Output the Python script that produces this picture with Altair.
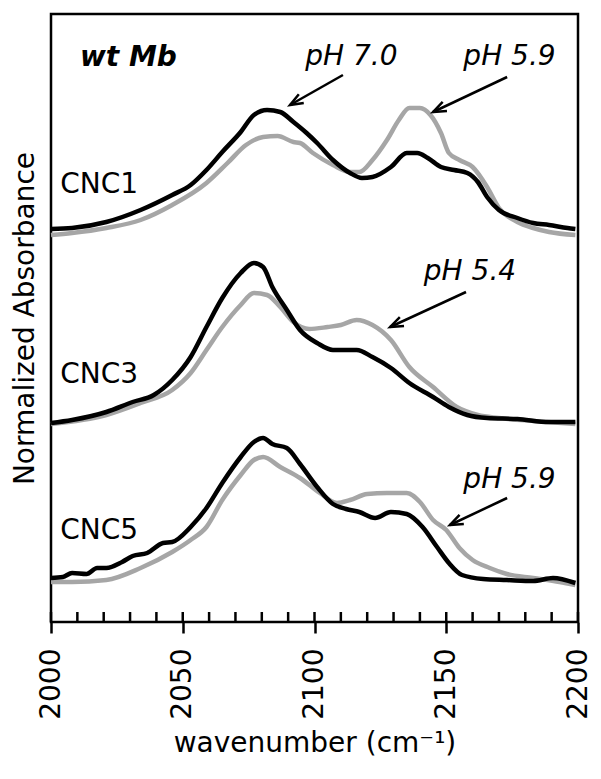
import math
import altair as alt
import pandas as pd

FONT = "DejaVu Sans"

# ---- spectra (wavenumber, normalized absorbance with vertical offsets) ----
WN_CNC1_70 = [2000, 2008, 2021, 2034, 2046, 2053, 2059, 2065, 2072, 2077, 2082, 2087, 2092, 2097, 2101, 2107, 2113.5, 2118, 2122, 2129, 2135, 2139, 2143, 2148, 2153, 2158, 2162, 2165.5, 2170, 2177, 2183, 2189, 2196, 2199]
AB_CNC1_70 = [1.965, 1.97, 2.00, 2.06, 2.135, 2.185, 2.26, 2.35, 2.45, 2.535, 2.56, 2.55, 2.50, 2.445, 2.395, 2.31, 2.245, 2.22, 2.225, 2.275, 2.345, 2.345, 2.32, 2.275, 2.26, 2.245, 2.20, 2.125, 2.06, 2.02, 1.995, 1.985, 1.97, 1.965]

WN_CNC1_59 = [2000, 2008, 2021, 2034, 2046, 2059, 2067, 2074, 2080.5, 2086, 2092, 2094.5, 2099.4, 2107, 2113.5, 2117, 2122, 2127.5, 2132, 2136, 2140, 2144, 2148, 2151, 2155, 2160, 2165.5, 2170, 2177, 2183, 2189, 2199]
AB_CNC1_59 = [1.935, 1.945, 1.97, 2.01, 2.085, 2.195, 2.295, 2.385, 2.425, 2.43, 2.40, 2.395, 2.345, 2.285, 2.25, 2.25, 2.31, 2.41, 2.51, 2.57, 2.57, 2.535, 2.445, 2.345, 2.31, 2.275, 2.175, 2.07, 2.00, 1.97, 1.95, 1.935]

WN_CNC3_70 = [2000, 2008, 2021, 2031, 2039, 2046, 2053, 2059, 2065, 2072, 2077, 2080.5, 2084, 2089.5, 2094.5, 2101, 2107, 2116, 2122, 2129, 2136, 2145, 2151, 2158, 2165.5, 2177, 2189, 2199]
AB_CNC3_70 = [0.995, 1.01, 1.05, 1.10, 1.135, 1.21, 1.325, 1.475, 1.62, 1.745, 1.795, 1.775, 1.675, 1.56, 1.46, 1.395, 1.36, 1.36, 1.325, 1.27, 1.195, 1.125, 1.075, 1.035, 1.02, 1.015, 1.00, 1.00]

WN_CNC3_54 = [2000, 2021, 2034, 2046, 2053, 2059, 2065, 2072, 2077, 2082, 2087, 2092, 2098, 2105, 2110, 2116, 2122, 2129, 2136, 2145, 2154, 2162, 2170, 2183, 2199]
AB_CNC3_54 = [0.99, 1.035, 1.095, 1.16, 1.245, 1.36, 1.475, 1.585, 1.645, 1.635, 1.575, 1.50, 1.465, 1.475, 1.485, 1.51, 1.485, 1.41, 1.275, 1.175, 1.075, 1.035, 1.02, 1.005, 0.99]

WN_CNC5_70 = [2000, 2004.5, 2008, 2013.5, 2017.5, 2021, 2027, 2031, 2036.5, 2042.5, 2046, 2053, 2059, 2065, 2072, 2077, 2080.5, 2084, 2089.5, 2094.5, 2101, 2107, 2112, 2117, 2123, 2129, 2135, 2141, 2146.5, 2151, 2156, 2164, 2173, 2183, 2190.5, 2199]
AB_CNC5_70 = [0.22, 0.225, 0.245, 0.24, 0.27, 0.27, 0.30, 0.33, 0.345, 0.395, 0.40, 0.475, 0.57, 0.695, 0.825, 0.90, 0.92, 0.89, 0.87, 0.79, 0.675, 0.59, 0.565, 0.55, 0.52, 0.55, 0.54, 0.475, 0.375, 0.295, 0.235, 0.215, 0.21, 0.205, 0.22, 0.195]

WN_CNC5_59 = [2000, 2008, 2021, 2034, 2046, 2053, 2059, 2065, 2072, 2077, 2080.5, 2087, 2094.5, 2102, 2108.5, 2113.5, 2120, 2127.5, 2135, 2140, 2145, 2150, 2155, 2160, 2166.5, 2173, 2183, 2193, 2199]
AB_CNC5_59 = [0.20, 0.20, 0.21, 0.27, 0.35, 0.41, 0.475, 0.61, 0.735, 0.81, 0.825, 0.775, 0.72, 0.645, 0.595, 0.61, 0.64, 0.645, 0.645, 0.60, 0.51, 0.46, 0.37, 0.31, 0.27, 0.24, 0.22, 0.20, 0.185]

# ---- annotations ----
PANEL_LABELS = ["CNC1", "CNC3", "CNC5"]
PANEL_LABEL_X = [2003.5, 2003.5, 2003.5]
PANEL_LABEL_Y = [2.185, 1.235, 0.455]

PH_LABELS = ["pH 7.0", "pH 5.9", "pH 5.4", "pH 5.9"]
PH_LABEL_X = [2114, 2174, 2159, 2174]
PH_LABEL_Y = [2.825, 2.825, 1.75, 0.71]

ARROW_X1 = [2110.8, 2173.1, 2157.5, 2173.1]
ARROW_Y1 = [2.735, 2.725, 1.65, 0.62]
ARROW_X2 = [2090.7, 2145.0, 2128.7, 2151.4]
ARROW_Y2 = [2.585, 2.55, 1.475, 0.485]

X_DOMAIN = [2000, 2200]
Y_DOMAIN = [0, 3.04]
W, H = 527, 608

XMAJOR = [2000, 2050, 2100, 2150, 2200]
XMINOR = list(range(2000, 2201, 10))


def series(wn, ab, panel):
    return pd.DataFrame({"wn": wn, "ab": ab, "panel": panel, "i": range(len(wn))})


grey = pd.concat([series(WN_CNC1_59, AB_CNC1_59, "CNC1"),
                  series(WN_CNC3_54, AB_CNC3_54, "CNC3"),
                  series(WN_CNC5_59, AB_CNC5_59, "CNC5")])
black = pd.concat([series(WN_CNC1_70, AB_CNC1_70, "CNC1"),
                   series(WN_CNC3_70, AB_CNC3_70, "CNC3"),
                   series(WN_CNC5_70, AB_CNC5_70, "CNC5")])

xscale = alt.Scale(domain=X_DOMAIN, nice=False, zero=False)
yscale = alt.Scale(domain=Y_DOMAIN, nice=False, zero=False)

x_main = alt.X("wn:Q", scale=xscale, title="wavenumber (cm\u207b\u00b9)",
               axis=alt.Axis(values=XMAJOR, format="d", orient="bottom", tickSize=11,
                             tickWidth=2.5, tickColor="black", domain=False, grid=False,
                             labelAngle=270, labelFontSize=28, labelFont=FONT,
                             labelColor="black", labelPadding=15, labelAlign="right",
                             labelBaseline="middle",
                             titleFontSize=28, titleFont=FONT, titleFontWeight="normal",
                             titleColor="black", titlePadding=10))
y_main = alt.Y("ab:Q", scale=yscale, title="Normalized Absorbance",
               axis=alt.Axis(ticks=False, labels=False, domain=False, grid=False,
                             titleFontSize=28, titleFont=FONT, titleFontWeight="normal",
                             titleColor="black", titlePadding=12))

grey_layer = alt.Chart(grey).mark_line(color="#a6a6a6", strokeWidth=4.5,
                                       interpolate="monotone").encode(
    x=x_main, y=y_main, detail="panel:N", order="i:Q")

black_layer = alt.Chart(black).mark_line(color="black", strokeWidth=4.5,
                                         interpolate="monotone").encode(
    x=alt.X("wn:Q", scale=xscale),
    y=alt.Y("ab:Q", scale=yscale), detail="panel:N", order="i:Q")

# inward minor ticks on the bottom edge
minor_df = pd.DataFrame({"wn": XMINOR})
minor_layer = alt.Chart(minor_df).mark_rule(color="black", strokeWidth=2.5).encode(
    x=alt.X("wn:Q", scale=xscale),
    y=alt.value(H - 10), y2=alt.value(H))

panel_df = pd.DataFrame({"x": PANEL_LABEL_X, "y": PANEL_LABEL_Y, "t": PANEL_LABELS})
panel_text = alt.Chart(panel_df).mark_text(font=FONT, fontSize=28, align="left",
                                           baseline="middle", color="black").encode(
    x=alt.X("x:Q", scale=xscale), y=alt.Y("y:Q", scale=yscale), text="t:N")

title_df = pd.DataFrame({"x": [2011], "y": [2.82], "t": ["wt Mb"]})
title_text = alt.Chart(title_df).mark_text(font=FONT, fontSize=28, align="left",
                                           baseline="middle", fontStyle="italic",
                                           fontWeight="bold", color="black").encode(
    x=alt.X("x:Q", scale=xscale), y=alt.Y("y:Q", scale=yscale), text="t:N")

ph_df = pd.DataFrame({"x": PH_LABEL_X, "y": PH_LABEL_Y, "t": PH_LABELS})
ph_text = alt.Chart(ph_df).mark_text(font=FONT, fontSize=28, align="center",
                                     baseline="middle", fontStyle="italic",
                                     color="black").encode(
    x=alt.X("x:Q", scale=xscale), y=alt.Y("y:Q", scale=yscale), text="t:N")

# arrows
px_per_x = W / (X_DOMAIN[1] - X_DOMAIN[0])
px_per_y = H / (Y_DOMAIN[1] - Y_DOMAIN[0])
angles = []
for x1, y1, x2, y2 in zip(ARROW_X1, ARROW_Y1, ARROW_X2, ARROW_Y2):
    dx = (x2 - x1) * px_per_x
    dy = -(y2 - y1) * px_per_y
    ang = math.degrees(math.atan2(dx, -dy)) % 360
    angles.append(ang)

arrow_df = pd.DataFrame({"x1": ARROW_X1, "y1": ARROW_Y1, "x2": ARROW_X2,
                         "y2": ARROW_Y2, "ang": angles})
arrow_lines = alt.Chart(arrow_df).mark_rule(color="black", strokeWidth=2.5).encode(
    x=alt.X("x1:Q", scale=xscale), y=alt.Y("y1:Q", scale=yscale),
    x2="x2:Q", y2="y2:Q")
arrow_heads = alt.Chart(arrow_df).mark_point(
    shape="M -0.5 1.3 L 0 0 L 0.5 1.3", filled=False, stroke="black",
    strokeWidth=2.5, size=400, opacity=1).encode(
    x=alt.X("x2:Q", scale=xscale), y=alt.Y("y2:Q", scale=yscale),
    angle=alt.Angle("ang:Q", scale=None))

chart = alt.layer(grey_layer, black_layer, minor_layer, panel_text, title_text,
                  ph_text, arrow_lines, arrow_heads).properties(
    width=W, height=H,
    autosize=alt.AutoSizeParams(type="none"),
    padding={"left": 43, "top": 6, "right": 15, "bottom": 150},
).configure(font=FONT, background="white").configure_view(
    stroke="black", strokeWidth=2.5)

chart.save("out.html", embed_options={"renderer": "svg", "actions": False})
